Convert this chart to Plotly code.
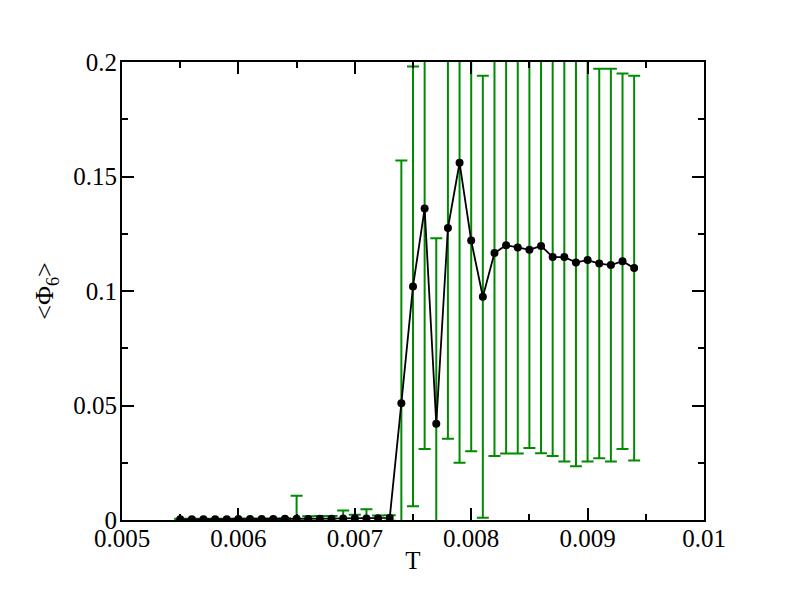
import plotly.graph_objects as go

T = [0.0055, 0.0056, 0.0057, 0.0058, 0.0059, 0.0060, 0.0061, 0.0062, 0.0063, 0.0064,
     0.0065, 0.0066, 0.0067, 0.0068, 0.0069, 0.0070, 0.0071, 0.0072, 0.0073, 0.0074,
     0.0075, 0.0076, 0.0077, 0.0078, 0.0079, 0.0080, 0.0081, 0.0082, 0.0083, 0.0084,
     0.0085, 0.0086, 0.0087, 0.0088, 0.0089, 0.0090, 0.0091, 0.0092, 0.0093, 0.0094]

phi6 = [0.0003, 0.0003, 0.0003, 0.0003, 0.0003, 0.0004, 0.0004, 0.0004, 0.0004, 0.0005,
        0.0006, 0.0004, 0.0005, 0.0006, 0.0007, 0.0008, 0.0007, 0.0008, 0.0009, 0.051,
        0.102, 0.136, 0.042, 0.1275, 0.156, 0.122, 0.0975, 0.1166, 0.1200, 0.1190,
        0.1180, 0.1197, 0.1148, 0.1148, 0.1125, 0.1135, 0.1120, 0.1113, 0.1130, 0.1100]

phi6_err = [0.0003, 0.0003, 0.0003, 0.0003, 0.0003, 0.0003, 0.0003, 0.0003, 0.0003, 0.0003,
            0.0100, 0.0012, 0.0012, 0.0012, 0.0035, 0.0015, 0.0040, 0.0012, 0.0012, 0.106,
            0.096, 0.105, 0.081, 0.092, 0.131, 0.092, 0.0965, 0.0886, 0.091, 0.090,
            0.0866, 0.0906, 0.0868, 0.0892, 0.0890, 0.0880, 0.085, 0.0857, 0.082, 0.084]

x_ticks = [0.005, 0.006, 0.007, 0.008, 0.009, 0.010]
x_labels = ["0.005", "0.006", "0.007", "0.008", "0.009", "0.01"]
y_ticks = [0, 0.05, 0.1, 0.15, 0.2]
y_labels = ["0", "0.05", "0.1", "0.15", "0.2"]

GREEN = "rgb(0,139,0)"
FONT = "Liberation Serif"

fig = go.Figure()
# error bars (drawn first, beneath the line)
fig.add_trace(go.Scatter(
    x=T, y=phi6, mode="markers",
    marker=dict(size=1, color="rgba(0,0,0,0)"),
    error_y=dict(type="data", array=phi6_err, visible=True,
                 color=GREEN, thickness=2, width=6),
    showlegend=False, hoverinfo="skip",
))
fig.add_trace(go.Scatter(
    x=T, y=phi6, mode="lines+markers",
    line=dict(color="black", width=1.8),
    marker=dict(symbol="circle", size=8, color="black"),
    showlegend=False,
))

axis_common = dict(
    showgrid=False, zeroline=False,
    showline=True, linecolor="black", linewidth=2, mirror="allticks",
    ticks="inside", ticklen=12, tickwidth=2, tickcolor="black",
    tickfont=dict(family=FONT, size=25, color="black"),
)

fig.update_layout(
    width=792, height=612,
    paper_bgcolor="white", plot_bgcolor="white",
    margin=dict(l=114, r=96, t=54, b=100),
    xaxis=dict(
        range=[0.005, 0.01], tickvals=x_ticks, ticktext=x_labels,
        minor=dict(ticks="inside", ticklen=6, tickwidth=2, tickcolor="black",
                   tick0=0.005, dtick=0.0005),
        ticklabelstandoff=-5,
        title=dict(text="T", font=dict(family=FONT, size=25, color="black"), standoff=0),
        **axis_common,
    ),
    yaxis=dict(
        range=[0, 0.2], tickvals=y_ticks, ticktext=y_labels,
        minor=dict(ticks="inside", ticklen=6, tickwidth=2, tickcolor="black",
                   tick0=0, dtick=0.025),
        ticklabelstandoff=-2,
        title=dict(text="&lt;Φ<sub>6</sub>&gt;", font=dict(family=FONT, size=26, color="black"),
                   standoff=12),
        **axis_common,
    ),
)

fig.write_html("out.html")
